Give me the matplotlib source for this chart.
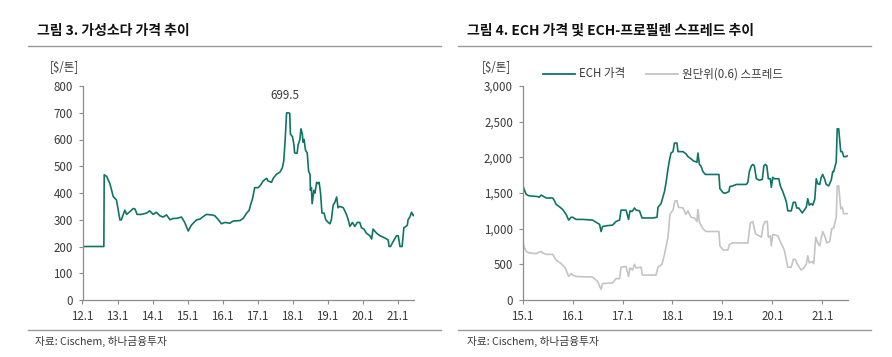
import matplotlib
matplotlib.use("Agg")
import matplotlib.pyplot as plt
from matplotlib.lines import Line2D

plt.rcParams["font.family"] = ["Noto Sans CJK KR", "DejaVu Sans"]

# ── 데이터 ───────────────────────────────────────────────────────────────────
# 그림 3: 가성소다 가격 ($/톤), x = 연도(소수)
soda_x = [12.00, 12.61, 12.62, 12.69, 12.78, 12.88, 12.97, 13.02, 13.07, 13.11,
          13.21, 13.26, 13.35, 13.45, 13.50, 13.56, 13.69, 13.83, 13.92, 14.02,
          14.11, 14.21, 14.30, 14.40, 14.50, 14.59, 14.69, 14.83, 14.92, 15.02,
          15.11, 15.26, 15.35, 15.45, 15.54, 15.69, 15.78, 15.88, 15.97, 16.07,
          16.21, 16.30, 16.50, 16.59, 16.69, 16.76, 16.80, 16.86, 16.92, 17.02,
          17.09, 17.16, 17.26, 17.30, 17.40, 17.45, 17.54, 17.64, 17.71, 17.75,
          17.79, 17.83, 17.88, 17.92, 17.94, 18.00, 18.04, 18.06, 18.13, 18.16,
          18.21, 18.24, 18.28, 18.30, 18.33, 18.37, 18.42, 18.46, 18.50, 18.51,
          18.54, 18.56, 18.61, 18.64, 18.69, 18.73, 18.76, 18.80, 18.84, 18.90,
          18.95, 19.02, 19.07, 19.11, 19.16, 19.21, 19.26, 19.30, 19.35, 19.45,
          19.54, 19.59, 19.64, 19.71, 19.78, 19.85, 19.92, 19.97, 20.04, 20.11,
          20.21, 20.26, 20.30, 20.40, 20.50, 20.59, 20.69, 20.73, 20.76, 20.80,
          20.88, 20.97, 21.02, 21.07, 21.13, 21.18, 21.24, 21.28, 21.30, 21.35,
          21.40, 21.45, 21.48]
soda_y = [200, 200, 468, 462, 436, 386, 374, 336, 299, 300,
          336, 320, 330, 342, 340, 320, 320, 325, 333, 320,
          328, 315, 310, 318, 300, 305, 305, 310, 290, 258,
          280, 300, 302, 312, 320, 318, 315, 300, 285, 290,
          287, 295, 297, 305, 325, 335, 355, 380, 420, 420,
          430, 445, 455, 445, 440, 455, 470, 478, 495, 520,
          600, 699.5, 699.5, 698, 620, 610, 580, 550, 548, 580,
          600, 640, 620, 590, 600, 560, 550, 480, 470, 410,
          420, 360, 410, 400, 440, 435, 440, 400, 325, 325,
          300, 290, 285, 300, 355, 365, 385, 345, 350, 345,
          320, 300, 275, 290, 275, 290, 290, 270, 265, 250,
          240, 228, 265, 250, 240, 235, 228, 225, 200, 200,
          220, 240, 240, 200, 200, 270, 275, 280, 300, 310,
          328, 315, 320]
soda_peak = 699.5

# 그림 4: ECH 가격 ($/톤)
ech_x = [15.00, 15.03, 15.07, 15.13, 15.23, 15.30, 15.33, 15.37, 15.40, 15.47,
         15.60, 15.63, 15.67, 15.73, 15.80, 15.87, 15.92, 15.97, 16.00, 16.07,
         16.20, 16.40, 16.47, 16.54, 16.57, 16.60, 16.67, 16.80, 16.87, 16.94,
         16.97, 17.07, 17.12, 17.15, 17.19, 17.24, 17.27, 17.34, 17.39, 17.47,
         17.61, 17.69, 17.71, 17.77, 17.81, 17.84, 17.87, 17.91, 17.94, 17.97,
         18.01, 18.04, 18.09, 18.11, 18.21, 18.27, 18.31, 18.37, 18.42, 18.46,
         18.49, 18.51, 18.54, 18.57, 18.61, 18.66, 18.74, 18.81, 18.93, 18.95,
         19.02, 19.07, 19.13, 19.15, 19.21, 19.28, 19.48, 19.51, 19.54, 19.58,
         19.61, 19.64, 19.68, 19.74, 19.80, 19.83, 19.86, 19.89, 19.92, 19.96,
         19.98, 20.01, 20.04, 20.13, 20.16, 20.21, 20.28, 20.31, 20.38, 20.42,
         20.46, 20.49, 20.53, 20.60, 20.63, 20.68, 20.71, 20.74, 20.78, 20.81,
         20.85, 20.88, 20.91, 20.95, 20.98, 21.01, 21.05, 21.08, 21.13, 21.18,
         21.21, 21.23, 21.27, 21.28, 21.30, 21.33, 21.37, 21.40, 21.43, 21.48,
         21.50]
ech_y = [1609, 1550, 1480, 1460, 1455, 1450, 1440, 1470, 1460, 1430,
         1430, 1400, 1340, 1310, 1270, 1200, 1120, 1160, 1160, 1130,
         1130, 1120, 1090, 1060, 960, 1030, 1040, 1050, 1100, 1120,
         1260, 1260, 1130, 1250, 1240, 1290, 1260, 1250, 1150, 1150,
         1150, 1160, 1300, 1350, 1450, 1520, 1640, 1840, 1960, 2060,
         2080, 2200, 2200, 2080, 2080, 2050, 2010, 1980, 1950, 1940,
         1930, 2060, 1900, 1880, 1800, 1760, 1760, 1760, 1760, 1560,
         1500, 1500, 1520, 1590, 1600, 1620, 1620, 1650, 1800, 1880,
         1900, 1880, 1700, 1680, 1690, 1880, 1900, 1880, 1700, 1700,
         1580, 1720, 1700, 1700, 1600, 1520, 1380, 1250, 1250, 1370,
         1370, 1290, 1290, 1220, 1250, 1300, 1420, 1330, 1350, 1330,
         1410, 1700, 1630, 1620, 1720, 1760, 1690, 1620, 1600, 1680,
         1800, 1800, 1910, 1930, 2400, 2400, 2080, 2080, 2010, 2010,
         2020]

# 원단위(0.6) 스프레드 ($/톤)
spread_x = [15.00, 15.03, 15.07, 15.13, 15.27, 15.37, 15.40, 15.47, 15.60, 15.67,
            15.77, 15.84, 15.87, 15.92, 15.97, 16.00, 16.07, 16.40, 16.50, 16.57,
            16.60, 16.80, 16.87, 16.94, 16.97, 17.07, 17.12, 17.15, 17.20, 17.24,
            17.27, 17.37, 17.40, 17.67, 17.71, 17.79, 17.84, 17.91, 17.95, 18.01,
            18.05, 18.09, 18.12, 18.21, 18.27, 18.31, 18.37, 18.44, 18.49, 18.51,
            18.54, 18.61, 18.67, 18.93, 18.95, 19.02, 19.11, 19.14, 19.21, 19.51,
            19.56, 19.61, 19.66, 19.78, 19.82, 19.86, 19.90, 19.92, 19.96, 19.98,
            20.01, 20.11, 20.16, 20.24, 20.31, 20.38, 20.42, 20.46, 20.51, 20.58,
            20.63, 20.68, 20.71, 20.74, 20.80, 20.83, 20.87, 20.91, 20.95, 20.98,
            21.01, 21.06, 21.09, 21.15, 21.19, 21.23, 21.27, 21.28, 21.30, 21.33,
            21.37, 21.40, 21.43, 21.50]
spread_y = [816, 740, 680, 660, 650, 680, 660, 640, 640, 560,
            510, 460, 420, 330, 370, 350, 330, 320, 260, 150,
            230, 240, 300, 300, 460, 470, 330, 450, 420, 500,
            450, 460, 350, 350, 460, 500, 640, 880, 1200, 1260,
            1390, 1390, 1300, 1290, 1200, 1250, 1160, 1150, 1100, 1270,
            1090, 1000, 960, 960, 760, 700, 700, 780, 800, 800,
            1080, 1100, 930, 880, 1050, 1100, 1100, 880, 900, 760,
            920, 900, 820, 700, 460, 460, 570, 570, 490, 420,
            450, 500, 620, 520, 540, 510, 880, 800, 760, 870,
            960, 880, 800, 820, 1000, 1010, 1130, 1150, 1600, 1600,
            1280, 1300, 1210, 1210]

soda_ticks = [12, 13, 14, 15, 16, 17, 18, 19, 20, 21]
ech_ticks = [15, 16, 17, 18, 19, 20, 21]
soda_yticks = [0, 100, 200, 300, 400, 500, 600, 700, 800]
ech_yticks = [0, 500, 1000, 1500, 2000, 2500, 3000]

# ── 스타일 ───────────────────────────────────────────────────────────────────
TEAL = "#0E7566"
GRAY = "#C4C4C4"
AXIS = "#8C8C8C"
TEXT = "#3A3A3A"

W, H = 892, 357
fig = plt.figure(figsize=(W / 100, H / 100), dpi=100)


def px(x, y):
    return x / W, 1 - y / H


def box(x0, y0, x1, y1):
    return [x0 / W, 1 - y1 / H, (x1 - x0) / W, (y1 - y0) / H]


def style_axis(ax, xticks, yticks, thousands=False):
    for s in ("top", "right"):
        ax.spines[s].set_visible(False)
    for s in ("left", "bottom"):
        ax.spines[s].set_color(AXIS)
        ax.spines[s].set_linewidth(0.9)
    ax.set_xticks(xticks)
    ax.set_xticklabels([f"{t}.1" for t in xticks])
    ax.set_yticks(yticks)
    if thousands:
        ax.set_yticklabels([f"{v:,}" for v in yticks])
    ax.tick_params(direction="out", length=3, width=0.8, color=AXIS,
                   labelsize=8.3, labelcolor=TEXT, pad=4)


# ── 그림 3 ───────────────────────────────────────────────────────────────────
ax1 = fig.add_axes(box(82.5, 86, 414, 300))
ax1.plot(soda_x, soda_y, color=TEAL, lw=1.2)
ax1.set_xlim(12.0, 21.47)
ax1.set_ylim(0, 800)
style_axis(ax1, soda_ticks, soda_yticks)
i_peak = soda_y.index(soda_peak)
ax1.text(soda_x[i_peak] - 0.05, soda_peak + 40, f"{soda_peak}",
         ha="center", va="bottom", fontsize=8.3, color=TEXT)

# ── 그림 4 ───────────────────────────────────────────────────────────────────
ax2 = fig.add_axes(box(522.7, 86, 847.7, 300))
ax2.plot(spread_x, spread_y, color=GRAY, lw=1.2)
ax2.plot(ech_x, ech_y, color=TEAL, lw=1.2)
ax2.set_xlim(15.0, 21.51)
ax2.set_ylim(0, 3000)
style_axis(ax2, ech_ticks, ech_yticks, thousands=True)

# 범례
for (x0, x1), color, label in [((543, 575), TEAL, "ECH 가격"),
                                ((646, 678), GRAY, "원단위(0.6) 스프레드")]:
    fig.add_artist(Line2D([x0 / W, x1 / W], [1 - 74 / H] * 2, color=color, lw=1.3))
    fig.text(*px(x1 + 4, 74), label, fontsize=8.3, color=TEXT, va="center")

# ── 제목, 단위, 출처, 구분선 ─────────────────────────────────────────────────
fig.text(*px(37, 31), "그림 3. 가성소다 가격 추이", fontsize=10,
         fontweight="bold", color="#111111", va="center")
fig.text(*px(467, 31), "그림 4. ECH 가격 및 ECH-프로필렌 스프레드 추이", fontsize=10,
         fontweight="bold", color="#111111", va="center")

fig.text(*px(64, 67), "[$/톤]", fontsize=8.3, color=TEXT, ha="center", va="center")
fig.text(*px(496, 67), "[$/톤]", fontsize=8.3, color=TEXT, ha="center", va="center")

for x0, x1 in [(28, 441), (458, 871)]:
    fig.add_artist(Line2D([x0 / W, x1 / W], [1 - 46 / H] * 2, color="#999999", lw=1.0))
    fig.add_artist(Line2D([x0 / W, x1 / W], [1 - 330 / H] * 2, color="#999999", lw=1.0))

fig.text(*px(35, 341), "자료: Cischem, 하나금융투자", fontsize=7.7, color=TEXT, va="center")
fig.text(*px(467, 341), "자료: Cischem, 하나금융투자", fontsize=7.7, color=TEXT, va="center")

fig.savefig("out.png", dpi=100)
plt.close(fig)
